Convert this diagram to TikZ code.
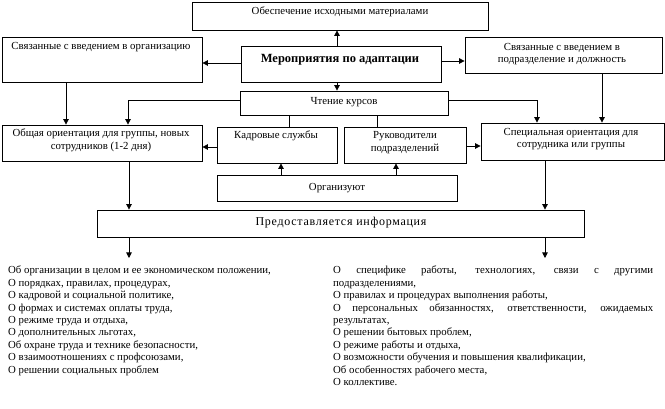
\documentclass[tikz,border=0pt]{standalone}
\usepackage{fontspec}
\setmainfont{Liberation Serif}
\newfontfamily\spacedfont[LetterSpace=6]{Liberation Serif}
\usetikzlibrary{arrows.meta}
\begin{document}
\begin{tikzpicture}[x=1pt,y=-1pt,
  box/.style={draw, line width=0.8pt, inner sep=0pt},
  txt/.style={font=\fontsize{10.8}{12.8}\selectfont, align=center, inner sep=0pt},
  listtxt/.style={font=\fontsize{10.8}{12.4}\selectfont, inner sep=0pt},
  arr/.style={line width=0.8pt, -{Triangle[length=5.5pt,width=5.5pt]}},
  ln/.style={line width=0.8pt}]
\useasboundingbox (0,0) rectangle (665,409);
% boxes
\node[box, minimum width=296pt, minimum height=28pt] (T) at (340,16) {};
\node[box, minimum width=200pt, minimum height=45pt] (A) at (102,59.5) {};
\node[box, minimum width=200pt, minimum height=36pt] (M) at (341,64) {};
\node[box, minimum width=197pt, minimum height=36pt] (B) at (563.5,55) {};
\node[box, minimum width=208pt, minimum height=24pt] (Ch) at (344,103) {};
\node[box, minimum width=200pt, minimum height=36pt] (C) at (102,143) {};
\node[box, minimum width=120pt, minimum height=36pt] (K) at (277,145) {};
\node[box, minimum width=122pt, minimum height=36pt] (R) at (405,145) {};
\node[box, minimum width=183pt, minimum height=37pt] (S) at (572.5,141.5) {};
\node[box, minimum width=240pt, minimum height=26pt] (O) at (337,188) {};
\node[box, minimum width=487pt, minimum height=27pt] (P) at (340.5,223.5) {};
% texts
\node[txt] (Tt) at (340,12) {Обеспечение исходными материалами};
\node[txt] (At) at (101,47) {Связанные с введением в организацию};
\node[txt, font=\fontsize{12.5}{14}\selectfont\bfseries] (Mt) at (340,60) {Мероприятия по адаптации};
\node[txt] (Bt) at (562,54) {Связанные с введением в\\подразделение и должность};
\node[txt] (Cht) at (344,102) {Чтение курсов};
\node[txt] (Ct) at (101,140) {Общая ориентация для группы, новых\\сотрудников (1-2 дня)};
\node[txt] (Kt) at (276,136) {Кадровые службы};
\node[txt] (Rt) at (405,143) {Руководители\\подразделений};
\node[txt] (St) at (571,139) {Специальная ориентация для\\сотрудника или группы};
\node[txt] (Ot) at (337,188) {Организуют};
\node[txt, font=\fontsize{12}{14}\spacedfont] (Pt) at (341,223) {Предоставляется информация};
% helper coordinates
\coordinate (x66) at (66,0);
\coordinate (x128) at (128,0);
\coordinate (x129) at (129,0);
\coordinate (x281) at (281,0);
\coordinate (x289) at (289,0);
\coordinate (x337) at (337,0);
\coordinate (x377) at (377,0);
\coordinate (x396) at (396,0);
\coordinate (x537) at (537,0);
\coordinate (x545) at (545,0);
\coordinate (x602) at (602,0);
\coordinate (y61) at (0,61);
\coordinate (y63) at (0,63);
\coordinate (y100) at (0,100);
\coordinate (y146) at (0,146);
\coordinate (y147) at (0,147);
\coordinate (e1) at (129,258);
\coordinate (e2) at (545,258);
% connectors
\draw[arr] (M.north -| x337) -- (T.south -| x337);
\draw[arr] (M.west |- y63) -- (A.east |- y63);
\draw[arr] (M.east |- y61) -- (B.west |- y61);
\draw[arr] (M.south -| x337) -- (Ch.north -| x337);
\draw[arr] (A.south -| x66) -- (C.north -| x66);
\draw[arr] (Ch.west |- y100) -- (x128 |- y100) -- (C.north -| x128);
\draw[arr] (Ch.east |- y100) -- (x537 |- y100) -- (S.north -| x537);
\draw[arr] (B.south -| x602) -- (S.north -| x602);
\draw[ln] (Ch.south -| x289) -- (K.north -| x289);
\draw[ln] (Ch.south -| x377) -- (R.north -| x377);
\draw[arr] (K.west |- y147) -- (C.east |- y147);
\draw[arr] (R.east |- y146) -- (S.west |- y146);
\draw[arr] (O.north -| x281) -- (K.south -| x281);
\draw[arr] (O.north -| x396) -- (R.south -| x396);
\draw[arr] (C.south -| x129) -- (P.north -| x129);
\draw[arr] (S.south -| x545) -- (P.north -| x545);
\draw[arr] (P.south -| x129) -- (e1);
\draw[arr] (P.south -| x545) -- (e2);
% lists
\node[listtxt, anchor=north west, align=left] (L1) at (8,266) {%
Об организации в целом и ее экономическом положении,\\
О порядках, правилах, процедурах,\\
О кадровой и социальной политике,\\
О формах и системах оплаты труда,\\
О режиме труда и отдыха,\\
О дополнительных льготах,\\
Об охране труда и технике безопасности,\\
О взаимоотношениях с профсоюзами,\\
О решении социальных проблем};
\node[listtxt, anchor=north west, text width=320pt, align=justify] (L2) at (333,266) {\parindent=0pt
О специфике работы, технологиях, связи с другими\linebreak подразделениями,\par
О правилах и процедурах выполнения работы,\par
О персональных обязанностях, ответственности, ожидаемых\linebreak результатах,\par
О решении бытовых проблем,\par
О режиме работы и отдыха,\par
О возможности обучения и повышения квалификации,\par
Об особенностях рабочего места,\par
О коллективе.};
\end{tikzpicture}
\end{document}
